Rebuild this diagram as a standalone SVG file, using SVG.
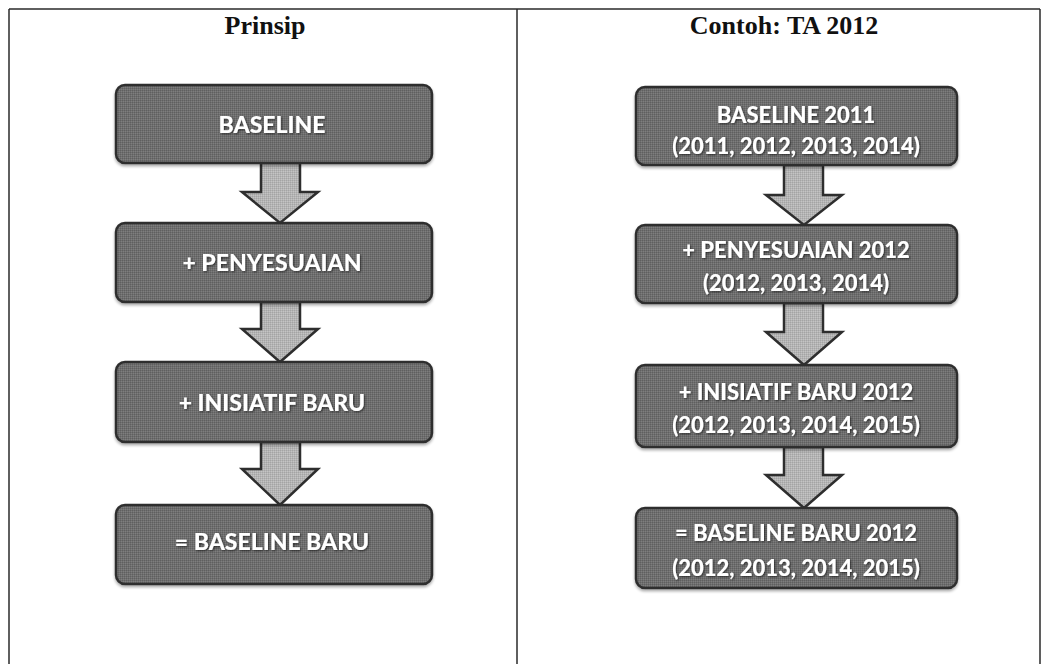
<svg xmlns="http://www.w3.org/2000/svg" width="1049" height="664" viewBox="0 0 1049 664">
  <defs>
    <pattern id="grain" width="2" height="2" patternUnits="userSpaceOnUse">
      <rect width="2" height="2" fill="#6e6e6e"/>
      <rect width="1" height="1" fill="#5e5e5e"/>
      <rect x="1" y="1" width="1" height="1" fill="#7e7e7e"/>
    </pattern>
    <pattern id="grainLight" width="2" height="2" patternUnits="userSpaceOnUse">
      <rect width="2" height="2" fill="#b4b4b4"/>
      <rect width="1" height="1" fill="#a4a4a4"/>
      <rect x="1" y="1" width="1" height="1" fill="#c4c4c4"/>
    </pattern>
    <filter id="drop" x="-10%" y="-10%" width="120%" height="130%">
      <feGaussianBlur in="SourceAlpha" stdDeviation="1.5"/>
      <feOffset dx="0" dy="2" result="b"/>
      <feComponentTransfer><feFuncA type="linear" slope="0.35"/></feComponentTransfer>
      <feMerge><feMergeNode/><feMergeNode in="SourceGraphic"/></feMerge>
    </filter>
    <filter id="txtShadow" x="-5%" y="-20%" width="110%" height="140%">
      <feGaussianBlur in="SourceAlpha" stdDeviation="0.8"/>
      <feOffset dx="1" dy="1"/>
      <feComponentTransfer><feFuncA type="linear" slope="0.6"/></feComponentTransfer>
      <feMerge><feMergeNode/><feMergeNode in="SourceGraphic"/></feMerge>
    </filter>
  </defs>
  <style>
    .frame { fill: none; stroke: #2a2a2a; stroke-width: 1.5; }
    .head { font-family: "Liberation Serif", "DejaVu Serif", serif; font-weight: bold; font-size: 26px; fill: #111; text-anchor: middle; }
    .box { fill: url(#grain); stroke: #2e2e2e; stroke-width: 2.5; filter: url(#drop); }
    .lbl { font-family: Lato, "Open Sans", "Liberation Sans", sans-serif; font-weight: 900; font-size: 22px; fill: #ffffff; text-anchor: middle; filter: url(#txtShadow); }
    .lbl.big { font-size: 23px; }
    .arrow { fill: url(#grainLight); stroke: #2e2e2e; stroke-width: 2.5; stroke-linejoin: miter; }
  </style>

  <rect width="1049" height="664" fill="#ffffff"/>

  <!-- table frame -->
  <g id="table">
    <line class="frame" x1="9" y1="9" x2="1040" y2="9"/>
    <line class="frame" x1="9" y1="9" x2="9" y2="664"/>
    <line class="frame" x1="517" y1="9" x2="517" y2="664"/>
    <line class="frame" x1="1040" y1="9" x2="1040" y2="664"/>
    <text class="head" x="265" y="34">Prinsip</text>
    <text class="head" x="784" y="34">Contoh: TA 2012</text>
  </g>

  <!-- connectors -->
  <g id="connectors">
    <path class="arrow" d="M261,162 H300 V192 H318 L280,223 L242,192 H261 Z"/>
    <path class="arrow" d="M261,302 H300 V329 H318 L280,362 L242,329 H261 Z"/>
    <path class="arrow" d="M261,442 H300 V469 H318 L280,505 L242,469 H261 Z"/>
    <path class="arrow" d="M784,165 H823 V195 H842 L804,225 L766,195 H784 Z"/>
    <path class="arrow" d="M784,303 H823 V332 H842 L804,365 L766,332 H784 Z"/>
    <path class="arrow" d="M784,447 H823 V475 H842 L804,508 L766,475 H784 Z"/>
  </g>

  <!-- left column -->
  <g id="p-baseline">
    <rect class="box" x="116" y="85" width="316" height="78" rx="9"/>
    <text class="lbl big" x="272" y="133">BASELINE</text>
  </g>
  <g id="p-penyesuaian">
    <rect class="box" x="116" y="223" width="316" height="79" rx="9"/>
    <text class="lbl big" x="272" y="271">+ PENYESUAIAN</text>
  </g>
  <g id="p-inisiatif">
    <rect class="box" x="116" y="362" width="316" height="80" rx="9"/>
    <text class="lbl big" x="272" y="411">+ INISIATIF BARU</text>
  </g>
  <g id="p-baseline-baru">
    <rect class="box" x="116" y="505" width="316" height="79" rx="9"/>
    <text class="lbl big" x="272" y="550">= BASELINE BARU</text>
  </g>

  <!-- right column -->
  <g id="c-baseline-2011">
    <rect class="box" x="636" y="87" width="321" height="78" rx="9"/>
    <text class="lbl" x="796" y="123">BASELINE 2011</text>
    <text class="lbl" x="796" y="154">(2011, 2012, 2013, 2014)</text>
  </g>
  <g id="c-penyesuaian-2012">
    <rect class="box" x="636" y="225" width="321" height="78" rx="9"/>
    <text class="lbl" x="796" y="258">+ PENYESUAIAN 2012</text>
    <text class="lbl" x="796" y="291">(2012, 2013, 2014)</text>
  </g>
  <g id="c-inisiatif-2012">
    <rect class="box" x="636" y="365" width="321" height="82" rx="9"/>
    <text class="lbl" x="796" y="400">+ INISIATIF BARU 2012</text>
    <text class="lbl" x="796" y="433">(2012, 2013, 2014, 2015)</text>
  </g>
  <g id="c-baseline-baru-2012">
    <rect class="box" x="636" y="508" width="321" height="80" rx="9"/>
    <text class="lbl" x="796" y="541">= BASELINE BARU 2012</text>
    <text class="lbl" x="796" y="576">(2012, 2013, 2014, 2015)</text>
  </g>
</svg>
